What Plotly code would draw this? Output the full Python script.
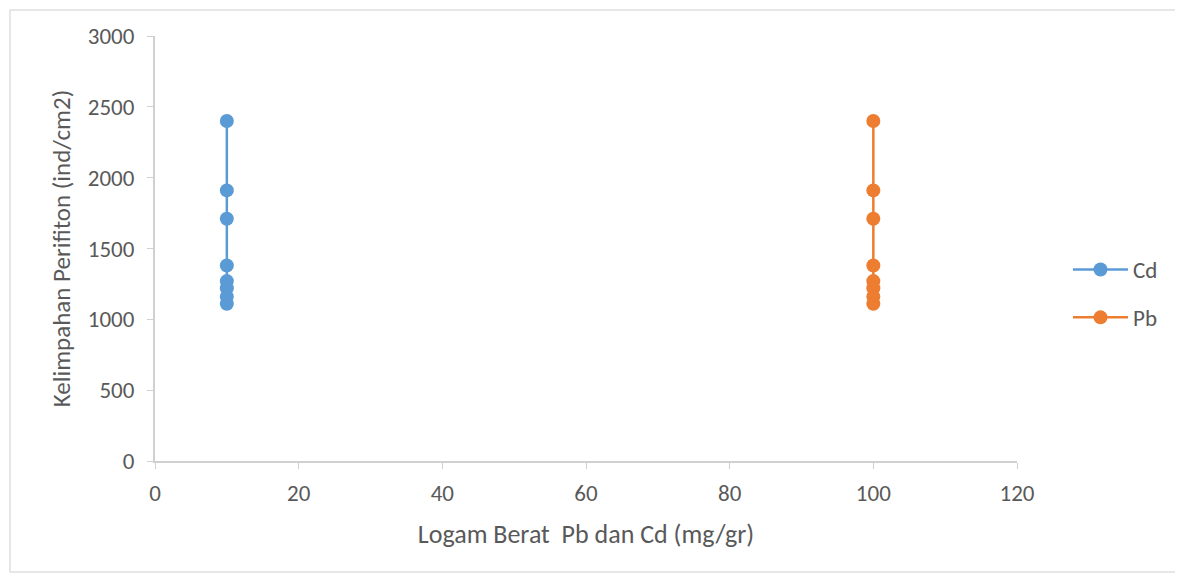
import plotly.graph_objects as go

cd_x = [10, 10, 10, 10, 10, 10, 10, 10]
cd_y = [2400, 1910, 1710, 1380, 1270, 1220, 1160, 1110]
pb_x = [100, 100, 100, 100, 100, 100, 100, 100]
pb_y = [2400, 1910, 1710, 1380, 1270, 1220, 1160, 1110]

OFF = 8  # page body margin
W, H = 1183 - OFF, 574 - OFF
L, R, T, B = 155 - OFF, 166, 36 - OFF, 113
pw, ph = W - L - R, H - T - B

def px(xs):
    return (xs - OFF - L) / pw

def py(ys):
    return (H - B - (ys - OFF)) / ph

font = "Carlito, Liberation Sans, Arial, sans-serif"
grey = "#595959"

fig = go.Figure()
fig.add_trace(go.Scatter(x=cd_x, y=cd_y, name="Cd", mode="lines+markers", legendgroup="a",
                         line=dict(color="#5B9BD5", width=2.5),
                         marker=dict(color="#5B9BD5", size=14)))
fig.add_trace(go.Scatter(x=pb_x, y=pb_y, name="Pb", mode="lines+markers", legendgroup="b",
                         line=dict(color="#ED7D31", width=2.5),
                         marker=dict(color="#ED7D31", size=14)))

fig.update_layout(
    width=W, height=H,
    margin=dict(l=L, r=R, t=T, b=B),
    paper_bgcolor="white", plot_bgcolor="white",
    font=dict(family=font, color=grey, size=23),
    xaxis=dict(range=[0, 120], dtick=20, showgrid=False, zeroline=False,
               showline=True, linecolor="#d0d0d0", linewidth=2,
               ticks="outside", ticklen=6, tickcolor="#d0d0d0",
               ticklabelstandoff=4,
               tickfont=dict(size=23, color=grey),
               title=dict(text="Logam Berat  Pb dan Cd (mg/gr)", font=dict(size=26, color=grey), standoff=19)),
    yaxis=dict(range=[0, 3000], dtick=500, showgrid=False, zeroline=False,
               showline=True, linecolor="#d0d0d0", linewidth=2,
               ticks="outside", ticklen=6, tickcolor="#d0d0d0",
               ticklabelstandoff=8,
               tickfont=dict(size=23, color=grey),
               title=dict(text="Kelimpahan Perifiton (ind/cm2)", font=dict(size=25, color=grey), standoff=10)),
    legend=dict(x=px(1068), y=py(248), xanchor="left", yanchor="top",
                font=dict(size=23, color=grey), itemwidth=55, tracegroupgap=15,
                bgcolor="rgba(0,0,0,0)"),
    showlegend=True,
)

fig.add_shape(type="rect", xref="paper", yref="paper",
              x0=px(10), x1=px(1180), y0=py(572), y1=py(10),
              line=dict(color="#e0e0e0", width=1.5), layer="below")

fig.write_html("out.html")
